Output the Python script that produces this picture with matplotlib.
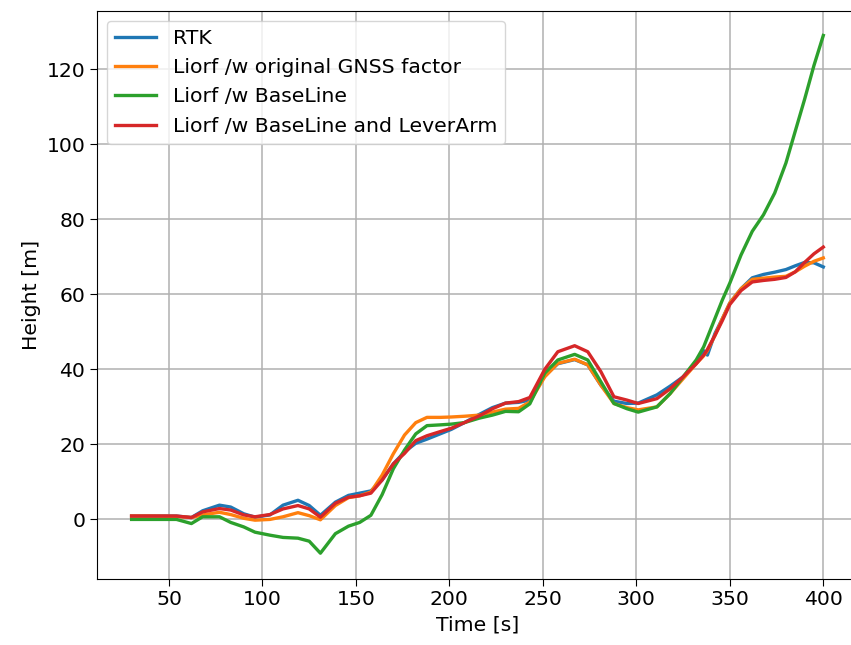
import numpy as np
from matplotlib import pyplot as plt

# time stamps [s]
time_s = [30, 40, 54, 62, 68, 77, 83, 90, 96, 104, 111, 119, 125, 131, 139, 146, 152, 158,
          164, 170, 176, 182, 188, 195, 201, 208, 216, 223, 230, 237, 243, 251, 258, 267,
          274, 281, 288, 295, 301, 311, 318, 325, 332, 336, 338, 342, 346, 350, 356, 362, 368, 374,
          380, 385, 390, 395, 400]

rtk = [0.9, 0.9, 0.9, 0.5, 2.3, 3.8, 3.3, 1.5, 0.6, 1.2, 3.8, 5.1, 3.7, 1.1, 4.6, 6.4, 7.0, 7.6,
       10.5, 14.8, 18.0, 20.3, 21.4, 22.8, 24.0, 25.8, 28.0, 29.8, 31.0, 31.2, 31.8, 38.3, 41.5, 42.6,
       41.2, 35.8, 31.5, 30.9, 31.0, 33.2, 35.5, 38.0, 41.5, 45.0, 43.8, 49.5, 53.5, 57.7, 61.5, 64.4, 65.3, 65.9,
       66.6, 67.6, 68.5, 68.4, 67.3]

original_gnss = [0.9, 0.9, 0.8, 0.5, 1.2, 1.9, 1.3, 0.3, -0.2, 0.0, 0.7, 1.8, 1.0, -0.1, 3.7, 5.8, 6.3, 7.3,
                 11.8, 17.5, 22.5, 25.8, 27.2, 27.2, 27.3, 27.5, 27.8, 28.6, 29.4, 29.6, 31.3, 38.0, 41.6, 42.7,
                 41.2, 35.8, 30.9, 29.8, 29.2, 30.0, 33.5, 37.5, 41.5, 43.6, 45.0, 49.0, 53.5, 57.7, 61.5, 64.0, 64.3, 64.6,
                 64.8, 66.0, 67.5, 68.8, 69.7]

baseline = [0.0, 0.0, 0.0, -1.1, 0.7, 0.7, -0.8, -2.0, -3.4, -4.2, -4.8, -5.0, -5.8, -9.0, -3.8, -1.8, -0.8, 1.1,
            6.6, 13.5, 18.5, 22.8, 25.0, 25.2, 25.4, 25.8, 27.0, 27.8, 28.8, 28.7, 30.8, 39.0, 42.5, 44.0,
            42.5, 36.7, 30.9, 29.5, 28.6, 30.0, 33.5, 38.0, 42.5, 46.0, 48.5, 53.5, 58.5, 63.0, 70.5, 76.8, 81.2, 87.0,
            95.0, 103.5, 112.0, 121.0, 129.0]

baseline_leverarm = [0.9, 0.9, 0.9, 0.5, 2.0, 2.9, 2.5, 1.2, 0.7, 1.3, 2.8, 3.7, 2.8, 0.6, 4.3, 5.9, 6.3, 7.0,
                     10.5, 14.8, 17.6, 21.0, 22.3, 23.4, 24.3, 25.8, 27.6, 29.5, 31.0, 31.4, 32.5, 40.0, 44.7, 46.3,
                     44.7, 39.4, 32.7, 31.8, 30.9, 32.2, 34.8, 38.0, 41.5, 43.8, 45.3, 49.0, 53.0, 57.3, 61.0, 63.3, 63.7, 64.0,
                     64.5, 66.0, 68.5, 70.8, 72.6]

fs = 14.7
fig = plt.figure(figsize=(8.51, 6.45), dpi=100)
ax = fig.add_axes([0.114, 0.1028, 0.8941, 0.8806])

ax.plot(time_s, rtk, lw=2.4, label='RTK')
ax.plot(time_s, original_gnss, lw=2.4, label='Liorf /w original GNSS factor')
ax.plot(time_s, baseline, lw=2.4, label='Liorf /w BaseLine')
ax.plot(time_s, baseline_leverarm, lw=2.4, label='Liorf /w BaseLine and LeverArm')

ax.set_xlim(11.5, 418.5)
ax.set_ylim(-15.8, 135.6)
ax.grid(True, lw=1.1)
ax.set_xlabel('Time [s]', fontsize=fs)
ax.set_ylabel('Height [m]', fontsize=fs)
ax.tick_params(labelsize=fs, length=5)
ax.legend(loc='upper left', fontsize=fs)

fig.savefig('out.png', dpi=100)
